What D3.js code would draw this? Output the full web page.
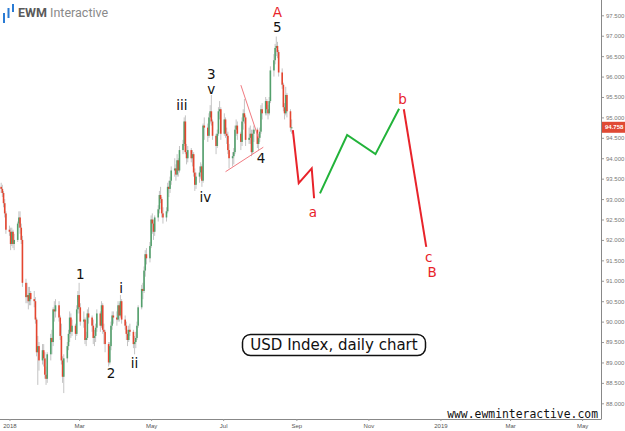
<!DOCTYPE html>
<html>
<head>
<meta charset="utf-8">
<script src="https://cdn.jsdelivr.net/npm/d3@7"></script>
<style>
  body { margin: 0; background: #fff; }
  svg { display: block; }
</style>
</head>
<body>
<svg id="chart" width="625" height="431"></svg>
<script>
// daily USD index candles, open/high/low/close, one row per weekday from firstDay
const firstDay = "2017-12-22";
const ohlc = [
  [93.40, 93.55, 93.20, 93.30], [93.30, 93.40, 93.15, 93.25], [93.25, 93.35, 93.05, 93.15],
  [93.15, 93.20, 92.80, 92.90], [92.90, 93.00, 92.55, 92.65], [92.65, 92.70, 92.15, 92.25],
  // Jan 2018
  [92.25, 92.35, 92.10, 92.20], [92.20, 92.30, 91.75, 91.90], [91.90, 92.30, 91.85, 92.20],
  [92.20, 92.25, 91.80, 91.90], [91.90, 92.15, 91.75, 92.00], [92.00, 92.45, 91.95, 92.40],
  [92.40, 92.70, 92.30, 92.55], [92.55, 92.70, 92.15, 92.30], [92.30, 92.40, 91.90, 92.00],
  [92.00, 92.10, 90.85, 90.95], [90.95, 91.05, 90.45, 90.60], [90.60, 90.95, 90.45, 90.65],
  [90.65, 90.85, 90.30, 90.50], [90.50, 90.85, 90.40, 90.70], [90.70, 90.75, 90.40, 90.55],
  [90.55, 90.75, 90.35, 90.50], [90.50, 90.60, 89.95, 90.05], [90.05, 90.10, 89.15, 89.25],
  [89.25, 89.65, 88.45, 89.40], [89.40, 89.50, 88.80, 89.05], [89.05, 89.45, 88.95, 89.30],
  [89.30, 89.45, 88.90, 89.10], [89.10, 89.25, 88.60, 88.70],
  // Feb
  [88.70, 88.90, 88.45, 88.60], [88.60, 89.25, 88.50, 89.20], [89.20, 89.70, 89.05, 89.60],
  [89.60, 89.80, 89.20, 89.50], [89.50, 90.35, 89.40, 90.30], [90.30, 90.50, 90.00, 90.25],
  [90.25, 90.55, 90.10, 90.40], [90.40, 90.50, 90.00, 90.10], [90.10, 90.15, 89.55, 89.65],
  [89.65, 89.95, 88.95, 89.05], [89.05, 89.15, 88.50, 88.65], [88.65, 89.20, 88.25, 89.10],
  [89.10, 89.50, 89.00, 89.40], [89.40, 89.80, 89.30, 89.70], [89.70, 90.25, 89.50, 90.10],
  [90.10, 90.20, 89.60, 89.75], [89.75, 90.05, 89.65, 89.90], [89.90, 89.95, 89.55, 89.70],
  [89.70, 90.40, 89.65, 90.30], [90.30, 90.75, 90.20, 90.65],
  // Mar
  [90.65, 90.95, 90.20, 90.35], [90.35, 90.45, 89.90, 90.00], [90.00, 90.25, 89.85, 90.05],
  [90.05, 90.10, 89.45, 89.55], [89.55, 89.75, 89.40, 89.60], [89.60, 90.30, 89.55, 90.20],
  [90.20, 90.35, 89.95, 90.10], [90.10, 90.15, 89.75, 89.90], [89.90, 90.05, 89.45, 89.60],
  [89.60, 89.80, 89.40, 89.65], [89.65, 89.95, 89.50, 89.85], [89.85, 90.30, 89.75, 90.20],
  [90.20, 90.25, 89.75, 89.90], [89.90, 90.50, 89.85, 90.40], [90.40, 90.45, 89.70, 89.80],
  [89.80, 89.95, 89.45, 89.75], [89.75, 89.80, 89.25, 89.45], [89.45, 89.50, 88.90, 89.00],
  [89.00, 89.50, 88.95, 89.40], [89.40, 90.00, 89.30, 89.90], [89.90, 90.25, 89.80, 90.15],
  [90.15, 90.25, 89.95, 90.10],
  // Apr
  [90.10, 90.25, 89.90, 90.05], [90.05, 90.50, 90.00, 90.40], [90.40, 90.45, 90.00, 90.15],
  [90.15, 90.65, 90.10, 90.50], [90.50, 90.55, 89.95, 90.05], [90.05, 90.15, 89.80, 89.90],
  [89.90, 90.00, 89.55, 89.70], [89.70, 89.80, 89.40, 89.55], [89.55, 89.90, 89.50, 89.80],
  [89.80, 89.95, 89.65, 89.75], [89.75, 89.80, 89.35, 89.45], [89.45, 89.65, 89.20, 89.50],
  [89.50, 89.75, 89.35, 89.60], [89.60, 90.00, 89.55, 89.90], [89.90, 90.40, 89.85, 90.35],
  [90.35, 90.90, 90.30, 90.80], [90.80, 90.95, 90.55, 90.75], [90.75, 91.35, 90.70, 91.25],
  [91.25, 91.75, 91.10, 91.65], [91.65, 91.80, 91.40, 91.55], [91.55, 91.95, 91.45, 91.85],
  // May
  [91.85, 92.60, 91.80, 92.50], [92.50, 92.65, 92.15, 92.40], [92.40, 92.50, 92.00, 92.20],
  [92.20, 92.60, 92.10, 92.55], [92.55, 92.85, 92.45, 92.75], [92.75, 93.20, 92.65, 93.10],
  [93.10, 93.30, 92.90, 93.00], [93.00, 93.05, 92.55, 92.65], [92.65, 92.80, 92.40, 92.55],
  [92.55, 92.80, 92.45, 92.70], [92.70, 93.40, 92.65, 93.30], [93.30, 93.45, 93.05, 93.25],
  [93.25, 93.55, 93.15, 93.45], [93.45, 93.80, 93.35, 93.70], [93.70, 94.00, 93.55, 93.75],
  [93.75, 93.85, 93.45, 93.60], [93.60, 94.10, 93.55, 93.95], [93.95, 94.00, 93.55, 93.70],
  [93.70, 94.30, 93.65, 94.20], [94.20, 94.45, 94.10, 94.35], [94.35, 95.00, 94.30, 94.90],
  [94.90, 95.05, 94.10, 94.15], [94.15, 94.35, 93.85, 94.00],
  // Jun
  [94.00, 94.30, 93.90, 94.20], [94.20, 94.25, 93.90, 94.00], [94.00, 94.20, 93.80, 94.10],
  [94.10, 94.15, 93.55, 93.65], [93.65, 93.75, 93.20, 93.35], [93.35, 93.65, 93.25, 93.55],
  [93.55, 93.80, 93.40, 93.65], [93.65, 93.90, 93.50, 93.80], [93.80, 93.85, 93.30, 93.45],
  [93.45, 94.85, 93.40, 94.80], [94.80, 95.00, 94.45, 94.75], [94.75, 94.85, 94.40, 94.55],
  [94.55, 95.10, 94.50, 95.00], [95.00, 95.30, 94.85, 95.15], [95.15, 95.55, 94.80, 94.90],
  [94.90, 94.95, 94.45, 94.55], [94.55, 94.60, 94.10, 94.30], [94.30, 94.70, 94.25, 94.60],
  [94.60, 95.25, 94.55, 95.15], [95.15, 95.40, 94.95, 95.20], [95.20, 95.25, 94.45, 94.60],
  // Jul
  [94.60, 95.10, 94.55, 94.95], [94.95, 95.00, 94.50, 94.60], [94.60, 94.75, 94.35, 94.55],
  [94.55, 94.65, 94.10, 94.20], [94.20, 94.35, 93.75, 94.00], [94.00, 94.15, 93.80, 94.05],
  [94.05, 94.25, 93.85, 94.15], [94.15, 94.80, 94.10, 94.70], [94.70, 94.95, 94.55, 94.80],
  [94.80, 94.90, 94.45, 94.60], [94.60, 94.65, 94.20, 94.40], [94.40, 95.00, 94.30, 94.90],
  [94.90, 95.20, 94.70, 95.10], [95.10, 95.45, 94.85, 95.00], [95.00, 95.05, 94.30, 94.45],
  [94.45, 94.75, 94.35, 94.50], [94.50, 94.80, 94.35, 94.60], [94.60, 94.70, 94.05, 94.15],
  [94.15, 94.70, 94.10, 94.60], [94.60, 94.80, 94.40, 94.70], [94.70, 94.75, 94.25, 94.35],
  [94.35, 94.60, 94.20, 94.50],
  // Aug
  [94.50, 94.75, 94.40, 94.65], [94.65, 95.30, 94.60, 95.20], [95.20, 95.35, 94.95, 95.10],
  [95.10, 95.50, 95.05, 95.40], [95.40, 95.45, 95.05, 95.20], [95.20, 95.30, 94.95, 95.10],
  [95.10, 95.50, 95.05, 95.40], [95.40, 96.25, 95.35, 96.15], [96.15, 96.55, 96.00, 96.40],
  [96.40, 96.80, 96.30, 96.70], [96.70, 96.98, 96.50, 96.75], [96.75, 96.85, 96.45, 96.60],
  [96.60, 96.65, 96.00, 96.10], [96.10, 96.20, 95.70, 95.80], [95.80, 95.85, 95.15, 95.25],
  [95.25, 95.35, 94.95, 95.10], [95.10, 95.75, 95.05, 95.55], [95.55, 95.60, 95.00, 95.15],
  [95.15, 95.20, 94.65, 94.75], [94.75, 94.95, 94.60, 94.758]
];
const lastPrice = 94.758;

// projected path (date, price)
const waveA = [["2018-08-29", 94.69], ["2018-09-03", 93.39], ["2018-09-14", 93.75], ["2018-09-16", 93.02]];
const waveB = [["2018-09-21", 93.14], ["2018-10-14", 94.57], ["2018-11-07", 94.10], ["2018-11-27", 95.21]];
const waveC = [["2018-12-01", 95.20], ["2018-12-20", 91.83]];
// wave 4 triangle lines
const triUpper = [["2018-07-16", 95.79], ["2018-07-31", 94.49]];
const triLower = [["2018-07-03", 93.67], ["2018-08-04", 94.27]];

// wave labels: text, date, price, colour
const waveLabels = [
  ["A", "2018-08-15T22:00", 97.58, "#e8232a"],
  ["5", "2018-08-15T22:00", 97.20, "#111"],
  ["3", "2018-06-21", 96.06, "#111"],
  ["v", "2018-06-21", 95.68, "#111"],
  ["iii", "2018-05-27", 95.29, "#111"],
  ["iv", "2018-06-16", 93.04, "#111"],
  ["4", "2018-08-02", 94.00, "#111"],
  ["1", "2018-03-02", 91.17, "#111"],
  ["i", "2018-04-05T16:00", 90.82, "#111"],
  ["2", "2018-03-28", 88.74, "#111"],
  ["ii", "2018-04-17", 88.99, "#111"],
  ["a", "2018-09-15", 92.69, "#e8232a"],
  ["b", "2018-11-30", 95.44, "#e8232a"],
  ["c", "2018-12-22", 91.58, "#e8232a"],
  ["B", "2018-12-25", 91.22, "#e8232a"]
];

const priceTicks = d3.range(88, 97.51, 0.5);
const monthTicks = [
  ["2018-01-01", "2018"], ["2018-03-01", "Mar"], ["2018-05-01", "May"],
  ["2018-07-01", "Jul"], ["2018-09-01", "Sep"], ["2018-11-01", "Nov"],
  ["2019-01-01", "2019"], ["2019-03-01", "Mar"], ["2019-05-01", "May"]
];

const parse = d3.isoParse;
const width = 625, height = 431;
const plotRight = 601, plotBottom = 419;

const svg = d3.select("#chart");
svg.append("rect").attr("width", width).attr("height", height).attr("fill", "#fff");

const x = d3.scaleTime()
  .domain([parse("2017-12-24"), parse("2019-05-17")])
  .range([0, plotRight]);
const y = d3.scaleLinear()
  .domain([88, 97.5])
  .range([403.3, 15.3]);

// weekday dates for the candles
const days = [];
let cur = parse(firstDay);
while (days.length < ohlc.length) {
  if (cur.getDay() !== 0 && cur.getDay() !== 6) days.push(new Date(cur));
  cur = d3.timeDay.offset(cur, 1);
}
const candles = ohlc.map((d, i) => ({ date: days[i], o: d[0], h: d[1], l: d[2], c: d[3] }));

// logo
const logo = svg.append("g");
[[3, 13, 23], [7.5, 8, 18], [12, 4, 12]].forEach(b => {
  logo.append("rect").attr("x", b[0]).attr("y", b[1]).attr("width", 2).attr("height", b[2] - b[1]).attr("fill", "#2a7bd4");
});
logo.append("text").attr("x", 18).attr("y", 17)
  .attr("font-family", "Roboto, 'Liberation Sans', sans-serif").attr("font-size", 12.5)
  .call(t => {
    t.append("tspan").attr("font-weight", "bold").attr("fill", "#5a5a5a").text("EWM");
    t.append("tspan").attr("fill", "#8a8a8a").text(" Interactive");
  });

// axes
const yAxis = d3.axisRight(y).tickValues(priceTicks).tickSize(3).tickPadding(2).tickFormat(d3.format(".3f"));
const gy = svg.append("g").attr("transform", `translate(${plotRight},0)`).call(yAxis);
gy.select(".domain").remove();
gy.selectAll("line").attr("stroke", "#999");
gy.selectAll("text").attr("fill", "#777").attr("font-size", 6).attr("font-family", "'Liberation Sans', Arial, sans-serif");

svg.append("line").attr("x1", plotRight + 0.5).attr("x2", plotRight + 0.5).attr("y1", 0).attr("y2", plotBottom)
  .attr("stroke", "#888");
svg.append("line").attr("x1", 0).attr("x2", plotRight + 0.5).attr("y1", plotBottom + 0.5).attr("y2", plotBottom + 0.5)
  .attr("stroke", "#888");

const xAxis = d3.axisBottom(x)
  .tickValues(monthTicks.map(d => parse(d[0])))
  .tickSize(2).tickPadding(3)
  .tickFormat((d, i) => monthTicks[i][1]);
const gx = svg.append("g").attr("transform", `translate(0,${plotBottom})`).call(xAxis);
gx.select(".domain").remove();
gx.selectAll("line").attr("stroke", "#999");
gx.selectAll("text").attr("fill", "#555").attr("font-size", 6).attr("font-family", "'Liberation Sans', Arial, sans-serif");

// candles
const cg = svg.append("g");
cg.selectAll("line").data(candles).join("line")
  .attr("x1", d => x(d.date)).attr("x2", d => x(d.date))
  .attr("y1", d => y(d.h)).attr("y2", d => y(d.l))
  .attr("stroke", "#c4c4c4").attr("stroke-width", 1);
cg.selectAll("rect").data(candles).join("rect")
  .attr("x", d => x(d.date) - 0.8)
  .attr("width", 1.6)
  .attr("y", d => y(Math.max(d.o, d.c)))
  .attr("height", d => Math.max(1, Math.abs(y(d.o) - y(d.c))))
  .attr("fill", d => d.c >= d.o ? "#53a06c" : "#e5452f");

// triangle
const line = d3.line().x(d => x(parse(d[0]))).y(d => y(d[1]));
[triUpper, triLower].forEach(t => {
  svg.append("path").attr("d", line(t)).attr("fill", "none").attr("stroke", "#f07a80").attr("stroke-width", 1);
});

// projection
svg.append("path").attr("d", line(waveA)).attr("fill", "none").attr("stroke", "#e8232a").attr("stroke-width", 2);
svg.append("path").attr("d", line(waveB)).attr("fill", "none").attr("stroke", "#22b33a").attr("stroke-width", 2);
svg.append("path").attr("d", line(waveC)).attr("fill", "none").attr("stroke", "#e8232a").attr("stroke-width", 2);

// wave labels
svg.append("g").selectAll("text").data(waveLabels).join("text")
  .attr("x", d => x(parse(d[1])))
  .attr("y", d => y(d[2]))
  .attr("dy", "0.36em")
  .attr("text-anchor", "middle")
  .attr("font-family", "'DejaVu Sans', Verdana, sans-serif")
  .attr("font-size", 13.5)
  .attr("fill", d => d[3])
  .text(d => d[0]);

// last price badge
svg.append("rect").attr("x", plotRight + 1).attr("y", y(lastPrice) - 5.5).attr("width", 24).attr("height", 11).attr("fill", "#e04a35");
svg.append("text").attr("x", plotRight + 4).attr("y", y(lastPrice)).attr("dy", "0.35em")
  .attr("font-size", 6).attr("font-weight", "bold").attr("fill", "#fff")
  .attr("font-family", "'Liberation Sans', Arial, sans-serif").text(lastPrice.toFixed(3));

// title box
svg.append("rect").attr("x", 242.5).attr("y", 334.5).attr("width", 183).attr("height", 21).attr("rx", 8)
  .attr("fill", "#fff").attr("stroke", "#111").attr("stroke-width", 1.5);
svg.append("text").attr("x", 334).attr("y", 350).attr("text-anchor", "middle")
  .attr("font-family", "'DejaVu Sans', Verdana, sans-serif").attr("font-size", 15).attr("fill", "#111")
  .text("USD Index, daily chart");

svg.append("text").attr("x", 598).attr("y", 418).attr("text-anchor", "end")
  .attr("font-family", "'DejaVu Sans Mono', monospace").attr("font-size", 11.4).attr("fill", "#111")
  .text("www.ewminteractive.com");
</script>
</body>
</html>
